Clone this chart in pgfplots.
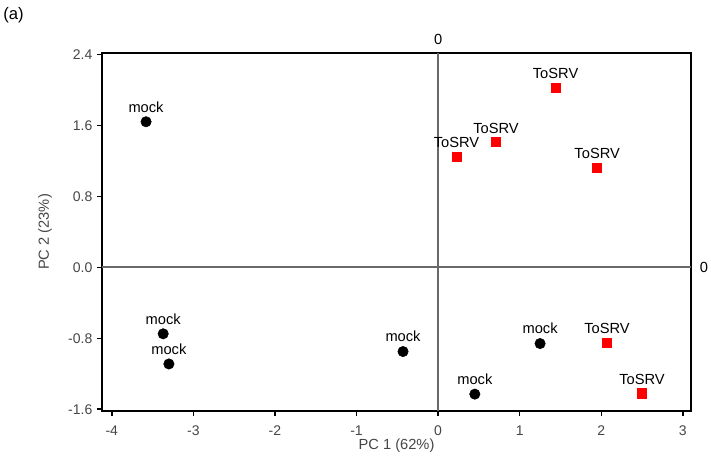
\documentclass[border=0pt]{standalone}
\usepackage{fontspec}
\setmainfont{Liberation Sans}
\usepackage{pgfplots}
\pgfplotsset{compat=1.18}
\usetikzlibrary{calc}
\definecolor{srvred}{RGB}{255,0,0}
\definecolor{zeroline}{RGB}{105,105,105}
\definecolor{labgray}{RGB}{70,70,70}

\begin{document}
\begin{tikzpicture}
\begin{axis}[
    scale only axis,
    width=441.75pt, height=268.5pt,
    xmin=-4.12, xmax=3.10,
    ymin=-1.62, ymax=2.415,
    xtick={-4,-3,-2,-1,0,1,2,3},
    ytick={-1.6,-0.8,0,0.8,1.6,2.4},
    yticklabel style={/pgf/number format/.cd, fixed, fixed zerofill, precision=1},
    xticklabel style={yshift=-4pt},
    /pgf/number format/assume math mode=true,
    tick pos=left, tick align=outside,
    major tick length=3.75pt,
    every tick/.style={black, line width=1.1pt},
    axis line style={black, line width=1.6pt},
    ticklabel style={font=\fontsize{10.5}{12}\selectfont, text=labgray},
    clip=false,
]
    % zero reference lines
    \draw[zeroline, line width=1.4pt] (axis cs:0,-1.62) -- (axis cs:0,2.415);
    \draw[zeroline, line width=1.4pt] (axis cs:-4.12,0) -- (axis cs:3.10,0);
    \coordinate (top0) at (axis cs:0,2.415);
    \coordinate (right0) at (axis cs:3.10,0);

    \addplot[only marks, mark=*, mark size=3.9pt, black,
        nodes near coords={mock},
        every node near coord/.style={anchor=south, inner sep=0pt, yshift=7pt,
            font=\fontsize{11}{13}\selectfont, text=black}]
        coordinates {(-3.58,1.64) (-3.37,-0.75) (-3.30,-1.09) (-0.43,-0.95) (0.45,-1.43) (1.25,-0.86)};

    \addplot[only marks, mark=square*, mark size=3.4pt, srvred,
        nodes near coords={ToSRV},
        every node near coord/.style={anchor=south, inner sep=0pt, yshift=6.5pt,
            font=\fontsize{11}{13}\selectfont, text=black}]
        coordinates {(0.225,1.25) (0.71,1.41) (1.44,2.02) (1.95,1.12) (2.07,-0.85) (2.50,-1.42)};
\end{axis}
\node[font=\fontsize{11}{13}\selectfont, anchor=south, inner sep=0pt]
    at ($(top0)+(0pt,6pt)$) {0};
\node[font=\fontsize{11}{13}\selectfont, anchor=west, inner sep=0pt]
    at ($(right0)+(6.5pt,0pt)$) {0};
\node[font=\fontsize{11}{13}\selectfont, text=labgray]
    at ($(current axis.south)+(0pt,-26pt)$) {PC 1 (62\%)};
\node[font=\fontsize{11}{13}\selectfont, text=labgray, rotate=90]
    at ($(current axis.west)+(-42.75pt,0pt)$) {PC 2 (23\%)};
\path ($(current axis.south west)+(-76.5pt,-40.5pt)$) rectangle ($(current axis.north east)+(15pt,39.75pt)$);
\node[anchor=north west, inner sep=0pt, font=\fontsize{12.5}{14}\selectfont]
    at ($(current axis.north west)+(-74.25pt,34pt)$) {(a)};
\end{tikzpicture}
\end{document}
